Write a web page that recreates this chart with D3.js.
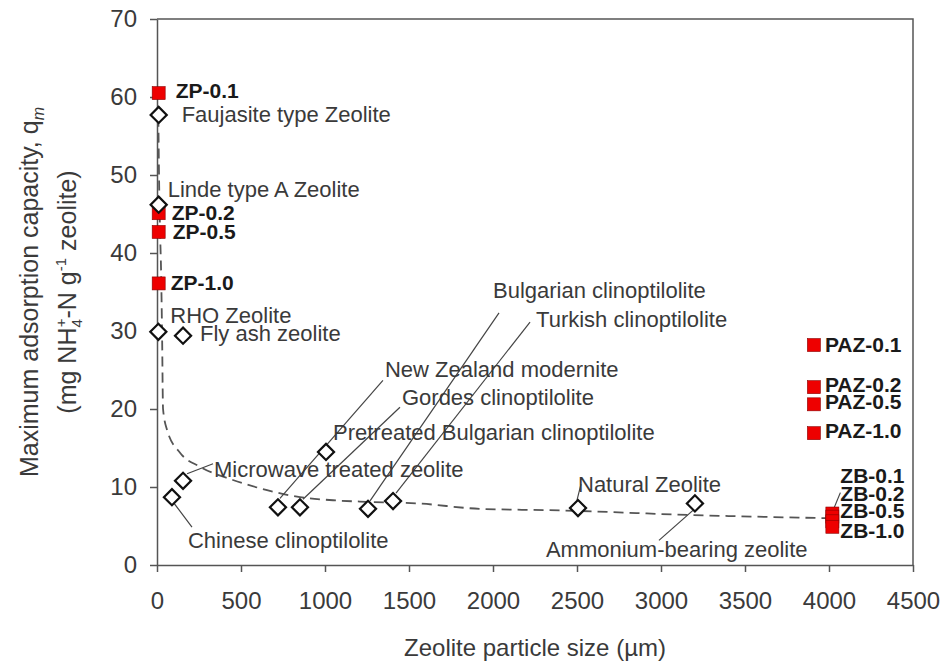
<!DOCTYPE html>
<html>
<head>
<meta charset="utf-8">
<script src="https://cdn.jsdelivr.net/npm/d3@7"></script>
<style>
  body { margin: 0; background: #fff; }
  text { font-family: "Liberation Sans", Arial, sans-serif; }
</style>
</head>
<body>
<svg id="chart" width="943" height="664"></svg>
<script>
// this study (red squares)
const zpNames = ["ZP-0.1", "ZP-0.2", "ZP-0.5", "ZP-1.0"];
const zpSize = [10, 10, 10, 10];
const zpQm = [60.5, 45.1, 42.7, 36.1];
const pazNames = ["PAZ-0.1", "PAZ-0.2", "PAZ-0.5", "PAZ-1.0"];
const pazSize = [3910, 3910, 3910, 3910];
const pazQm = [28.2, 22.8, 20.6, 16.9];
const zbNames = ["ZB-0.1", "ZB-0.2", "ZB-0.5", "ZB-1.0"];
const zbSize = [4020, 4020, 4020, 4020];
const zbQm = [6.6, 6.2, 5.6, 4.9];

// literature zeolites (open diamonds)
const litNames = [
  "Faujasite type Zeolite", "Linde type A Zeolite", "RHO Zeolite", "Fly ash zeolite",
  "Chinese clinoptilolite", "Microwave treated zeolite", "New Zealand modernite",
  "Gordes clinoptilolite", "Pretreated Bulgarian clinoptilolite", "Bulgarian clinoptilolite",
  "Turkish clinoptilolite", "Natural Zeolite", "Ammonium-bearing zeolite",
];
const litSize = [10, 10, 8, 155, 89, 155, 720, 851, 1006, 1256, 1405, 2506, 3202];
const litQm = [57.7, 46.2, 29.9, 29.4, 8.7, 10.8, 7.4, 7.4, 14.5, 7.2, 8.2, 7.3, 7.9];

// dashed trend line
const trendSize = [8, 12, 18, 24, 30, 36, 60, 137, 256, 452, 655, 851, 1048, 1250, 1548, 1923, 2400, 3190, 4000];
const trendQm = [57.5, 50, 43, 38, 30, 20, 17.3, 14.4, 12.6, 10.9, 9.6, 8.7, 8.3, 8.1, 7.9, 7.2, 7.0, 6.4, 6.0];

const xTicks = [0, 500, 1000, 1500, 2000, 2500, 3000, 3500, 4000, 4500];
const yTicks = [0, 10, 20, 30, 40, 50, 60, 70];

// label placement: [dx, dy] from the marker to the text baseline start,
// optional leader [x1, y1, x2, y2] relative to the marker
const labelPos = {
  "ZP-0.1": [17, 5], "ZP-0.2": [13, 7], "ZP-0.5": [14, 7], "ZP-1.0": [12, 7],
  "PAZ-0.1": [11, 7], "PAZ-0.2": [11, 5], "PAZ-0.5": [11, 5], "PAZ-1.0": [11, 5],
  "ZB-0.1": [8, -31], "ZB-0.2": [8, -16, [1, -7, 8, -24]], "ZB-0.5": [8, -3], "ZB-1.0": [8, 11],
  "Faujasite type Zeolite": [23, 7],
  "Linde type A Zeolite": [9, -8],
  "RHO Zeolite": [12, -9],
  "Fly ash zeolite": [17, 5],
  "Chinese clinoptilolite": [16, 51, [2, 6, 20, 30]],
  "Microwave treated zeolite": [31, -4, [4, -7, 30, -17]],
  "New Zealand modernite": [107, -130, [2, -9, 105, -127]],
  "Gordes clinoptilolite": [102, -102, [3, -8, 100, -100]],
  "Pretreated Bulgarian clinoptilolite": [7, -12],
  "Bulgarian clinoptilolite": [125, -211, [2, -8, 131, -196]],
  "Turkish clinoptilolite": [143, -174, [3, -8, 137, -179]],
  "Natural Zeolite": [0, -16, [-1, -8, 3, -24]],
  "Ammonium-bearing zeolite": [-149, 54, [-2, 7, -36, 37]],
};

const svg = d3.select("#chart");
const margin = { left: 157, right: 30, top: 19, bottom: 99 };
const W = 943, H = 664;

const x = d3.scaleLinear().domain([0, 4500]).range([margin.left, W - margin.right]);
const y = d3.scaleLinear().domain([0, 70]).range([H - margin.bottom, margin.top]);

const axisColor = "#555";
const textColor = "#3a3a3a";

// frame (top + right)
svg.append("path")
  .attr("d", `M${x(0)},${y(70)}H${x(4500)}V${y(0)}`)
  .attr("fill", "none")
  .attr("stroke", axisColor)
  .attr("stroke-width", 1.5);

const gx = svg.append("g")
  .attr("transform", `translate(0,${y(0)})`)
  .call(d3.axisBottom(x).tickValues(xTicks).tickFormat(d3.format("d"))
    .tickSize(7).tickPadding(20).tickSizeOuter(0));
const gy = svg.append("g")
  .attr("transform", `translate(${x(0)},0)`)
  .call(d3.axisLeft(y).tickValues(yTicks).tickFormat(d3.format("d"))
    .tickSize(7).tickPadding(13).tickSizeOuter(0));

[gx, gy].forEach((g) => {
  g.select(".domain").attr("stroke", axisColor).attr("stroke-width", 1.5);
  g.selectAll(".tick line").attr("stroke", axisColor).attr("stroke-width", 1.5);
  g.selectAll(".tick text")
    .attr("fill", textColor)
    .style("font-size", "24px")
    .style("font-family", '"Liberation Sans", Arial, sans-serif');
});

// axis titles
svg.append("text")
  .attr("x", (x(0) + x(4500)) / 2)
  .attr("y", 656)
  .attr("text-anchor", "middle")
  .attr("fill", textColor)
  .style("font-size", "24px")
  .text("Zeolite particle size (\u00b5m)");

const midY = (y(0) + y(70)) / 2;
const yl1 = svg.append("text")
  .attr("transform", `translate(38,${midY}) rotate(-90)`)
  .attr("text-anchor", "middle")
  .attr("fill", textColor)
  .style("font-size", "25px");
yl1.append("tspan").text("Maximum adsorption capacity, q");
yl1.append("tspan").attr("dy", 6).style("font-size", "16px").style("font-style", "italic").text("m");

const yl2 = svg.append("text")
  .attr("transform", `translate(76,${midY}) rotate(-90)`)
  .attr("text-anchor", "middle")
  .attr("fill", textColor)
  .style("font-size", "25px");
yl2.append("tspan").text("(mg NH");
yl2.append("tspan").attr("dy", 6).style("font-size", "15px").text("4");
yl2.append("tspan").attr("dy", -16).attr("dx", -8).style("font-size", "15px").text("+");
yl2.append("tspan").attr("dy", 10).text("-N g");
yl2.append("tspan").attr("dy", -10).style("font-size", "15px").text("-1");
yl2.append("tspan").attr("dy", 10).text(" zeolite)");

// trend line
const trend = trendSize.map((s, i) => [s, trendQm[i]]);
svg.append("path")
  .datum(trend)
  .attr("fill", "none")
  .attr("stroke", "#555")
  .attr("stroke-width", 1.8)
  .attr("stroke-dasharray", "10,6")
  .attr("d", d3.line().x((d) => x(d[0])).y((d) => y(d[1])).curve(d3.curveMonotoneX));

const ours = [
  ...zpNames.map((n, i) => ({ name: n, s: zpSize[i], q: zpQm[i] })),
  ...pazNames.map((n, i) => ({ name: n, s: pazSize[i], q: pazQm[i] })),
  ...zbNames.map((n, i) => ({ name: n, s: zbSize[i], q: zbQm[i] })),
];
const lit = litNames.map((n, i) => ({ name: n, s: litSize[i], q: litQm[i] }));

// leader lines
const leaders = [...ours, ...lit].filter((d) => labelPos[d.name] && labelPos[d.name][2]);
svg.append("g")
  .selectAll("line")
  .data(leaders)
  .join("line")
  .attr("x1", (d) => x(d.s) + labelPos[d.name][2][0])
  .attr("y1", (d) => y(d.q) + labelPos[d.name][2][1])
  .attr("x2", (d) => x(d.s) + labelPos[d.name][2][2])
  .attr("y2", (d) => y(d.q) + labelPos[d.name][2][3])
  .attr("stroke", "#444")
  .attr("stroke-width", 1.2);

// red squares
svg.append("g")
  .selectAll("rect")
  .data(ours)
  .join("rect")
  .attr("x", (d) => x(d.s) - 6.5)
  .attr("y", (d) => y(d.q) - 6.5)
  .attr("width", 13)
  .attr("height", 13)
  .attr("fill", "#ee0000")
  .attr("stroke", "#8a0000")
  .attr("stroke-width", 0.6);

// open diamonds
const diamond = d3.symbol().type(d3.symbolSquare).size(130);
svg.append("g")
  .selectAll("path")
  .data(lit)
  .join("path")
  .attr("d", diamond)
  .attr("transform", (d) => `translate(${x(d.s)},${y(d.q)}) rotate(45)`)
  .attr("fill", "#fff")
  .attr("stroke", "#111")
  .attr("stroke-width", 2.2);

// labels
svg.append("g")
  .selectAll("text")
  .data(ours)
  .join("text")
  .attr("x", (d) => x(d.s) + labelPos[d.name][0])
  .attr("y", (d) => y(d.q) + labelPos[d.name][1])
  .attr("fill", "#1a1a1a")
  .style("font-size", "21px")
  .style("font-weight", "bold")
  .text((d) => d.name);

svg.append("g")
  .selectAll("text")
  .data(lit)
  .join("text")
  .attr("x", (d) => x(d.s) + labelPos[d.name][0])
  .attr("y", (d) => y(d.q) + labelPos[d.name][1])
  .attr("fill", textColor)
  .style("font-size", "22px")
  .text((d) => d.name);
</script>
</body>
</html>
